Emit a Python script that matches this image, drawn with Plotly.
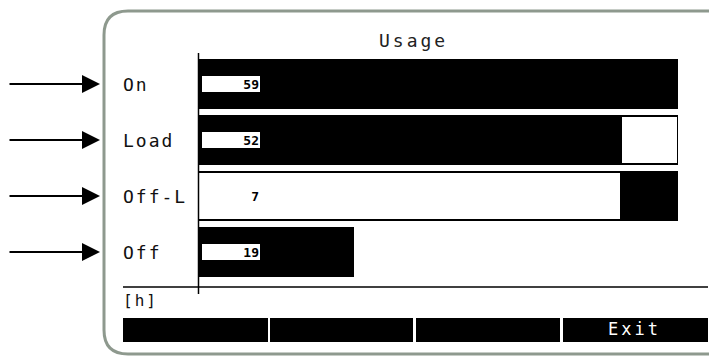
import plotly.graph_objects as go

# ---- data ----
categories = ["On", "Load", "Off-L", "Off"]
hours = [59, 52, 7, 19]                 # value shown in each bar's label
first_segment = [59, 52, 52, 19]        # first stacked part of each bar
second_segment = [0, 7, 7, 0]           # remainder part of each bar
first_colors = ["black", "black", "white", "black"]
second_colors = ["white", "white", "black", "white"]
title_text = "Usage"
unit_text = "[h]"
softkeys = ["", "", "", "Exit"]

# the page body has an 8px margin, so the figure starts at (8, 8) on screen
OFF = 8
W, H = 717 - OFF, 358 - OFF
# plot area in screen pixels
SX0, SX1, SY0, SY1 = 198, 678, 56, 280
L, R, T, B = SX0 - OFF, W - (SX1 - OFF), SY0 - OFF, H - (SY1 - OFF)
PW, PH = W - L - R, H - T - B


def PX(x):
    return (x - SX0) / PW


def PY(y):
    return (SY1 - y) / PH


FONT = "DejaVu Sans Mono"


def spaced(s, sp=3):
    return f'<span style="letter-spacing:{sp}px">{s}</span>'


fig = go.Figure()
fig.add_trace(go.Bar(
    y=categories, x=first_segment, orientation="h",
    marker=dict(color=first_colors, line=dict(color="black", width=2)),
    hoverinfo="skip", showlegend=False,
))
fig.add_trace(go.Bar(
    y=categories, x=second_segment, orientation="h",
    marker=dict(color=second_colors, line=dict(color="black", width=2)),
    hoverinfo="skip", showlegend=False,
))

annotations = []
shapes = []

for cat, val, col in zip(categories, hours, first_colors):
    # value label boxes
    annotations.append(dict(
        xref="x", yref="y", x=0, y=cat, xanchor="left", yanchor="middle",
        xshift=3, text=f"<b>{val}</b>", showarrow=False, align="right",
        width=56, height=14, borderpad=1, borderwidth=1,
        bordercolor="black" if col == "black" else "white",
        bgcolor="white", font=dict(family=FONT, size=13, color="black"),
    ))
    # category names
    annotations.append(dict(
        xref="paper", yref="y", x=PX(121), y=cat, xanchor="left", yanchor="middle",
        text=spaced(cat, 2), showarrow=False,
        font=dict(family=FONT, size=18, color="#111"),
    ))
    # pointer arrows
    annotations.append(dict(
        xref="paper", yref="y", x=PX(100), y=cat, ax=-92, ay=0,
        text="", showarrow=True, arrowhead=2, arrowsize=1.8,
        arrowwidth=2, arrowcolor="black",
    ))

annotations.append(dict(
    xref="paper", yref="paper", x=PX(413), y=PY(41), xanchor="center", yanchor="middle",
    text=spaced(title_text, 3), showarrow=False,
    font=dict(family=FONT, size=18, color="#222"),
))
annotations.append(dict(
    xref="paper", yref="paper", x=PX(121), y=PY(300), xanchor="left", yanchor="middle",
    text=spaced(unit_text, 2), showarrow=False,
    font=dict(family=FONT, size=16, color="#111"),
))

# softkey bar
keys = [(123, 268), (270, 413), (416, 560), (563, 708)]
for (x0, x1), label in zip(keys, softkeys):
    shapes.append(dict(type="rect", xref="paper", yref="paper",
                       x0=PX(x0), x1=PX(x1), y0=PY(342), y1=PY(318),
                       fillcolor="black", line=dict(width=0)))
    if label:
        annotations.append(dict(
            xref="paper", yref="paper", x=PX(634), y=PY(329), xanchor="center",
            yanchor="middle", text=spaced(label, 3), showarrow=False,
            font=dict(family=FONT, size=17, color="white"),
        ))

# axis lines
shapes.append(dict(type="line", xref="paper", yref="paper",
                   x0=PX(123), x1=PX(708), y0=PY(287), y1=PY(287),
                   line=dict(color="black", width=1.5)))
shapes.append(dict(type="line", xref="paper", yref="paper",
                   x0=PX(198.5), x1=PX(198.5), y0=PY(53), y1=PY(294),
                   line=dict(color="black", width=1.5)))

# outer rounded frame (right side runs past the window edge)
x0, y0, x1, y1, r = 104, 11, 730, 354, 24
path = (f"M {PX(x0)},{PY(y0 + r)} Q {PX(x0)},{PY(y0)} {PX(x0 + r)},{PY(y0)} "
        f"L {PX(x1 - r)},{PY(y0)} Q {PX(x1)},{PY(y0)} {PX(x1)},{PY(y0 + r)} "
        f"L {PX(x1)},{PY(y1 - r)} Q {PX(x1)},{PY(y1)} {PX(x1 - r)},{PY(y1)} "
        f"L {PX(x0 + r)},{PY(y1)} Q {PX(x0)},{PY(y1)} {PX(x0)},{PY(y1 - r)} Z")
shapes.append(dict(type="path", xref="paper", yref="paper", path=path,
                   line=dict(color="#8e998e", width=3), layer="below"))

fig.update_layout(
    width=W, height=H, margin=dict(l=L, r=R, t=T, b=B),
    paper_bgcolor="white", plot_bgcolor="white",
    barmode="stack", bargap=0.14,
    xaxis=dict(range=[0, max(a + b for a, b in zip(first_segment, second_segment))],
               visible=False, fixedrange=True),
    yaxis=dict(categoryorder="array", categoryarray=categories,
               range=[3.5, -0.5], visible=False, fixedrange=True),
    annotations=annotations, shapes=shapes,
)

fig.write_html("out.html", config={"displayModeBar": False})
